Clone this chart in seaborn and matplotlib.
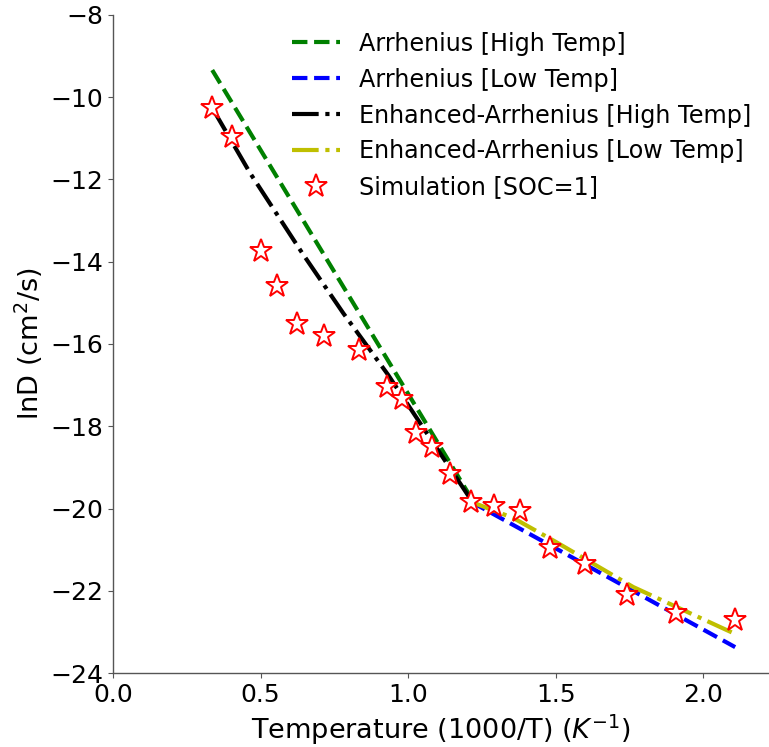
import matplotlib
matplotlib.use("Agg")
import matplotlib.pyplot as plt
import seaborn as sns
import numpy as np

# Simulation data (SOC=1)
sim_x = [0.336, 0.403, 0.502, 0.556, 0.624, 0.715, 0.834, 0.929, 0.980, 1.027,
         1.081, 1.142, 1.214, 1.292, 1.380, 1.481, 1.600, 1.742, 1.908, 2.108]
sim_y = [-10.26, -10.97, -13.74, -14.59, -15.51, -15.81, -16.15, -17.05, -17.34, -18.16,
         -18.50, -19.16, -19.84, -19.94, -20.06, -20.96, -21.35, -22.10, -22.54, -22.71]

# Fitted lines
arr_high_x = [0.336, 1.214]
arr_high_y = [-9.34, -19.75]
arr_low_x = [1.214, 2.108]
arr_low_y = [-19.84, -23.37]
enh_high_x = [0.336, 0.464, 0.641, 0.780, 0.932, 1.214]
enh_high_y = [-10.26, -11.84, -13.79, -15.25, -16.75, -19.80]
enh_low_x = [1.214, 1.356, 1.500, 1.763, 2.108]
enh_low_y = [-19.84, -20.23, -20.81, -21.91, -23.05]

sns.set_style("ticks")
plt.rcParams['font.family'] = ['DejaVu Sans']
plt.rcParams['text.color'] = 'black'
plt.rcParams['axes.labelcolor'] = 'black'

fig = plt.figure(figsize=(7.69, 7.47), dpi=100)
ax = fig.add_axes([0.147, 0.099, 0.852, 0.881])

lw = 3
sns.lineplot(x=arr_high_x, y=arr_high_y, color='g', linestyle='--', lw=lw,
             label='Arrhenius [High Temp]', ax=ax, sort=False, estimator=None)
sns.lineplot(x=arr_low_x, y=arr_low_y, color='b', linestyle='--', lw=lw,
             label='Arrhenius [Low Temp]', ax=ax, sort=False, estimator=None)
sns.lineplot(x=enh_high_x, y=enh_high_y, color='k', linestyle='-.', lw=lw,
             label='Enhanced-Arrhenius [High Temp]', ax=ax, sort=False, estimator=None)
sns.lineplot(x=enh_low_x, y=enh_low_y, color='y', linestyle='-.', lw=lw,
             label='Enhanced-Arrhenius [Low Temp]', ax=ax, sort=False, estimator=None)
sns.lineplot(x=sim_x, y=sim_y, color='r', linestyle='', marker='*', ms=17,
             mfc='white', mec='red', mew=1.4,
             label='Simulation [SOC=1]', ax=ax, sort=False, estimator=None)

ax.set_xlim(0, 2.22)
ax.set_ylim(-24, -8)
ax.set_xticks([0.0, 0.5, 1.0, 1.5, 2.0])
ax.set_yticks(np.arange(-24, -7, 2))
ax.tick_params(labelsize=18, length=3.5, width=0.8, colors='#555555', labelcolor='black')
for s in ['left', 'bottom']:
    ax.spines[s].set_color('#555555')
    ax.spines[s].set_linewidth(1.0)
sns.despine(ax=ax)

ax.set_xlabel('Temperature (1000/T) ($K^{-1}$)', fontsize=19.5, color='black')
ax.set_ylabel('lnD (cm$^2$/s)', fontsize=19.5, color='black')

leg = ax.legend(loc='upper right', frameon=False, fontsize=17.2, handlelength=2.0,
                borderaxespad=0.3)
for t in leg.get_texts():
    t.set_color('black')

fig.savefig('out.png', dpi=100)
